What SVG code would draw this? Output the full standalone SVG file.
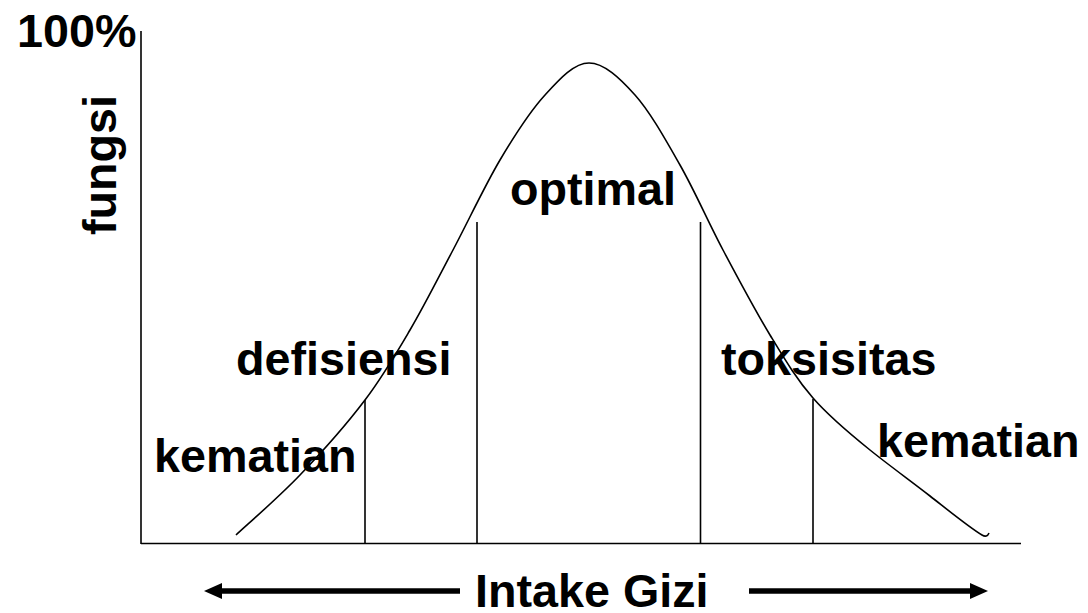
<svg xmlns="http://www.w3.org/2000/svg" width="1088" height="613" viewBox="0 0 1088 613">
<style>
.lbl{font-family:"Liberation Sans",Arial,sans-serif;font-weight:bold;font-size:46.7px;fill:#000}
.ln{stroke:#000;stroke-width:1.6;fill:none}
.arr{stroke:#000;stroke-width:5.5;fill:none}
</style>
<rect width="1088" height="613" fill="#fff"/>
<g id="axes">
<line class="ln" x1="141" y1="31" x2="141" y2="544"/>
<line class="ln" x1="141" y1="543.5" x2="1021" y2="543.5"/>
</g>
<g id="curve">
<path class="ln" d="M236,535 C246.7,525 278.5,497.5 300,475 C321.5,452.5 346.7,424.2 365,400 C383.3,375.8 395.3,355 410,330 C424.7,305 438,278.3 453,250 C468,221.7 484.7,185.8 500,160 C515.3,134.2 530.2,111.2 545,95 C559.8,78.8 574,63 589,63 C604,63 619.8,78 635,95 C650.2,112 665.3,139.2 680,165 C694.7,190.8 708,221.7 723,250 C738,278.3 755,310.3 770,335 C785,359.7 796.3,378.8 813,398 C829.7,417.2 850.5,434.3 870,450 C889.5,465.7 910.8,481 930,496 C949.2,511 970,528 982,535 Q987,538 989,533"/>
</g>
<g id="dividers">
<line class="ln" x1="365" y1="400" x2="365" y2="543"/>
<line class="ln" x1="477" y1="222" x2="477" y2="543"/>
<line class="ln" x1="700.5" y1="222" x2="700.5" y2="543"/>
<line class="ln" x1="813" y1="399" x2="813" y2="543"/>
</g>
<g id="labels">
<text class="lbl" x="17" y="47">100%</text>
<text class="lbl" x="116" y="165" text-anchor="middle" transform="rotate(-90 116 165)">fungsi</text>
<text class="lbl" x="510" y="205">optimal</text>
<text class="lbl" x="236" y="375">defisiensi</text>
<text class="lbl" x="721" y="375">toksisitas</text>
<text class="lbl" x="154" y="472">kematian</text>
<text class="lbl" x="877" y="457">kematian</text>
<text class="lbl" x="475" y="607" font-size="48">Intake Gizi</text>
</g>
<g id="arrows">
<line class="arr" x1="460" y1="591" x2="218" y2="591"/>
<polygon points="204,591 222,583 222,599" fill="#000"/>
<line class="arr" x1="749" y1="591" x2="974" y2="591"/>
<polygon points="988,591 970,583 970,599" fill="#000"/>
</g>
</svg>
